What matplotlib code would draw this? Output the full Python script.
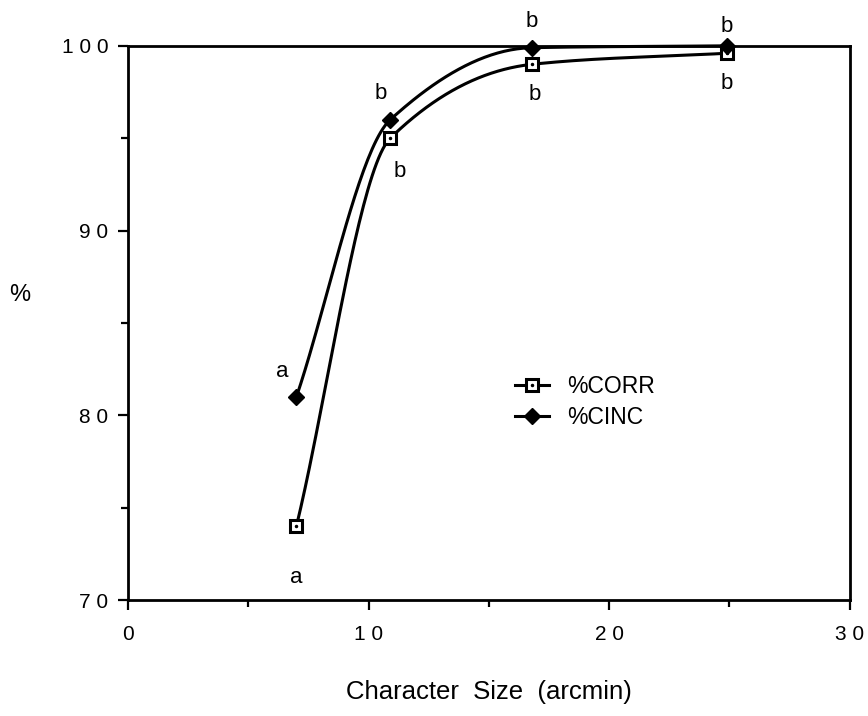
import numpy as np
import matplotlib.pyplot as plt
from matplotlib.lines import Line2D

plt.rcParams['font.family'] = ['Liberation Sans', 'DejaVu Sans']

# character size (arcmin) and percentages
size = [7, 10.9, 16.8, 24.9]
corr = [74, 95, 99, 99.6]
cinc = [81, 96, 99.9, 100]
corr_grp = ['a', 'b', 'b', 'b']
cinc_grp = ['a', 'b', 'b', 'b']


def smooth(x, y, n=200):
    # monotone cubic hermite through the points
    x = np.asarray(x, float)
    y = np.asarray(y, float)
    h = np.diff(x)
    d = np.diff(y) / h
    m = np.zeros_like(y)
    m[0] = d[0]
    m[-1] = d[-1]
    for i in range(1, len(x) - 1):
        if d[i - 1] * d[i] > 0:
            w1 = 2 * h[i] + h[i - 1]
            w2 = h[i] + 2 * h[i - 1]
            m[i] = (w1 + w2) / (w1 / d[i - 1] + w2 / d[i])
    xs = np.linspace(x[0], x[-1], n)
    k = np.clip(np.searchsorted(x, xs) - 1, 0, len(x) - 2)
    t = (xs - x[k]) / h[k]
    h00 = 2 * t**3 - 3 * t**2 + 1
    h10 = t**3 - 2 * t**2 + t
    h01 = -2 * t**3 + 3 * t**2
    h11 = t**3 - t**2
    ys = h00 * y[k] + h10 * h[k] * m[k] + h01 * y[k + 1] + h11 * h[k] * m[k + 1]
    return xs, ys


fig = plt.figure(figsize=(8.68, 7.16), dpi=100)
ax = fig.add_axes([0.1475, 0.162, 0.8315, 0.774])

xs, ys = smooth(size, corr)
ax.plot(xs, ys, color='black', lw=2.2, zorder=2, clip_on=False)
xs, ys = smooth(size, cinc)
ax.plot(xs, ys, color='black', lw=2.2, zorder=2, clip_on=False)

ax.plot(size, corr, ls='none', marker='s', ms=8.5, mfc='white', mec='black',
        mew=2.2, zorder=3, clip_on=False)
ax.plot(size, corr, ls='none', marker='.', ms=3, color='black', zorder=4,
        clip_on=False)
ax.plot(size, cinc, ls='none', marker='D', ms=8.5, color='black', zorder=3,
        clip_on=False)

# significance letters
corr_off = [(0, -37), (6.5, -24), (2, -22), (0, -22)]
cinc_off = [(-10, 18), (-6.5, 19), (0, 19), (0, 14)]
for x, y, s, o in zip(size, corr, corr_grp, corr_off):
    ax.annotate(s, (x, y), xytext=o, textcoords='offset points',
                ha='center', va='center', fontsize=16)
for x, y, s, o in zip(size, cinc, cinc_grp, cinc_off):
    ax.annotate(s, (x, y), xytext=o, textcoords='offset points',
                ha='center', va='center', fontsize=16)

ax.set_xlim(0, 30)
ax.set_ylim(70, 100)
ax.set_xticks([0, 10, 20, 30])
ax.set_xticks([5, 15, 25], minor=True)
ax.set_yticks([70, 80, 90, 100])
ax.set_yticks([75, 85, 95], minor=True)
ax.set_xticklabels(['0', '1 0', '2 0', '3 0'])
ax.set_yticklabels(['7 0', '8 0', '9 0', '1 0 0'])
ax.tick_params(which='major', length=7, width=1.6, labelsize=15, pad=7)
ax.tick_params(axis='x', which='major', pad=11)
ax.tick_params(which='minor', length=5, width=1.6)
for sp in ax.spines.values():
    sp.set_linewidth(2)

ax.set_xlabel('Character  Size  (arcmin)', fontsize=18.5, va='top')
ax.xaxis.set_label_coords(0.5, -0.145)
ax.set_ylabel('%', fontsize=17, rotation=0)
ax.yaxis.set_label_coords(-0.15, 0.53)

h1 = (Line2D([], [], color='black', lw=2.2, marker='s', ms=8.5, mfc='white',
             mec='black', mew=2.2),
      Line2D([], [], ls='none', marker='.', ms=3, color='black'))
h2 = Line2D([], [], color='black', lw=2.2, marker='D', ms=8.5)
ax.legend([h1, h2], ['%CORR', '%CINC'], loc='center left',
          bbox_to_anchor=(0.52, 0.357), frameon=False, fontsize=16.5,
          handlelength=1.5, handletextpad=0.8, labelspacing=0.35,
          borderpad=0)

fig.savefig('out.png', dpi=100)
